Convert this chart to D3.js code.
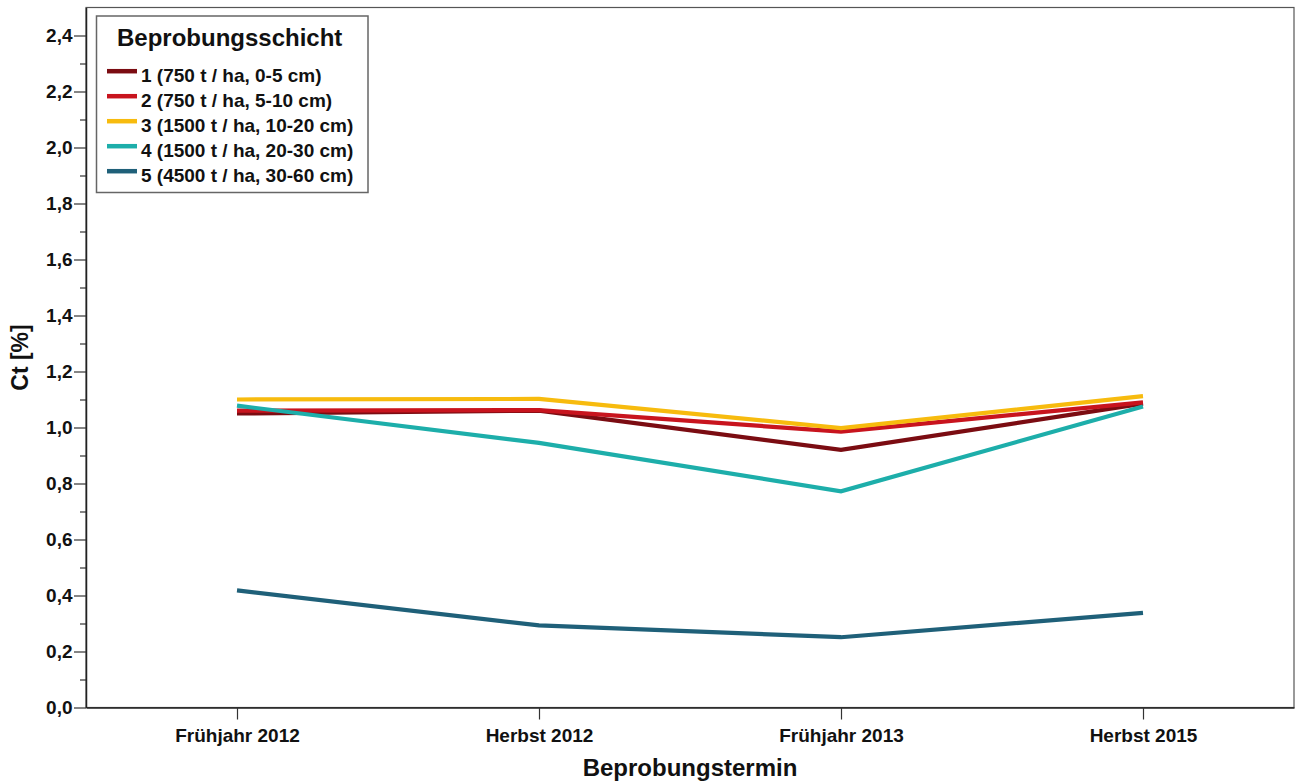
<!DOCTYPE html>
<html>
<head>
<meta charset="utf-8">
<script src="https://cdn.jsdelivr.net/npm/d3@7"></script>
<style>
  html, body { margin: 0; padding: 0; background: #fff; }
  svg { display: block; font-family: "Liberation Sans", Arial, sans-serif; }
</style>
</head>
<body>
<script>
// ---- data ----
const categories = ["Frühjahr 2012", "Herbst 2012", "Frühjahr 2013", "Herbst 2015"];
const seriesNames = [
  "1 (750 t / ha, 0-5 cm)",
  "2 (750 t / ha, 5-10 cm)",
  "3 (1500 t / ha, 10-20 cm)",
  "4 (1500 t / ha, 20-30 cm)",
  "5 (4500 t / ha, 30-60 cm)"
];
const layer1 = [1.050, 1.060, 0.920, 1.085];
const layer2 = [1.060, 1.062, 0.985, 1.090];
const layer3 = [1.100, 1.102, 0.998, 1.112];
const layer4 = [1.078, 0.945, 0.772, 1.075];
const layer5 = [0.418, 0.293, 0.251, 0.338];
const seriesValues = [layer1, layer2, layer3, layer4, layer5];
const seriesColors = ["#7b0c12", "#c8141e", "#f7bb0e", "#1daeaa", "#1f6079"];
const yMajorTicks = [0, 0.2, 0.4, 0.6, 0.8, 1.0, 1.2, 1.4, 1.6, 1.8, 2.0, 2.2, 2.4];
const yMinorTicks = [0.1, 0.3, 0.5, 0.7, 0.9, 1.1, 1.3, 1.5, 1.7, 1.9, 2.1, 2.3];
const yTitle = "Ct [%]";
const xTitle = "Beprobungstermin";
const legendTitle = "Beprobungsschicht";

// ---- layout ----
const W = 1296, H = 782;
const pLeft = 86, pRight = 1294, pTop = 7.5, pBottom = 707.5;

const svg = d3.select("body").append("svg").attr("width", W).attr("height", H);

const x = d3.scalePoint().domain(categories).range([pLeft, pRight]).padding(0.5);
const y = d3.scaleLinear().domain([0, 2.5]).range([pBottom, pTop]);

// frame
svg.append("rect")
  .attr("x", pLeft).attr("y", pTop)
  .attr("width", pRight - pLeft).attr("height", pBottom - pTop)
  .attr("fill", "none").attr("stroke", "#555").attr("stroke-width", 1.2);

const fmt = v => d3.format(".1f")(v).replace(".", ",");

// y axis minor ticks
svg.append("g")
  .attr("transform", `translate(${pLeft},0)`)
  .call(d3.axisLeft(y).tickValues(yMinorTicks).tickSize(6).tickSizeOuter(0).tickFormat(""))
  .call(g => g.select(".domain").remove())
  .call(g => g.selectAll("line").attr("stroke", "#333").attr("stroke-width", 1.2));

// y axis major ticks
svg.append("g")
  .attr("transform", `translate(${pLeft},0)`)
  .call(d3.axisLeft(y).tickValues(yMajorTicks).tickSize(12).tickSizeOuter(0).tickPadding(1.5).tickFormat(fmt))
  .call(g => g.select(".domain").attr("stroke", "#222").attr("stroke-width", 1.5))
  .call(g => g.selectAll("line").attr("stroke", "#333").attr("stroke-width", 1.2))
  .call(g => g.selectAll("text").attr("fill", "#111")
    .style("font-size", "19px").style("font-weight", "bold"));

// x axis
svg.append("g")
  .attr("transform", `translate(0,${pBottom})`)
  .call(d3.axisBottom(x).tickSize(12).tickSizeOuter(0).tickPadding(9))
  .call(g => g.select(".domain").attr("stroke", "#222").attr("stroke-width", 1.5))
  .call(g => g.selectAll("line").attr("stroke", "#333").attr("stroke-width", 1.2))
  .call(g => g.selectAll("text").attr("fill", "#111")
    .style("font-size", "19px").style("font-weight", "bold"));

// axis titles
svg.append("text")
  .attr("transform", `translate(28,${(pTop + pBottom) / 2}) rotate(-90)`)
  .attr("text-anchor", "middle")
  .style("font-size", "23px").style("font-weight", "bold").attr("fill", "#111")
  .text(yTitle);

svg.append("text")
  .attr("x", (pLeft + pRight) / 2).attr("y", 776)
  .attr("text-anchor", "middle")
  .style("font-size", "24px").style("font-weight", "bold").attr("fill", "#111")
  .text(xTitle);

// lines
const line = d3.line()
  .x((d, i) => x(categories[i]))
  .y(d => y(d));

svg.append("g").selectAll("path")
  .data(seriesValues)
  .join("path")
  .attr("d", d => line(d))
  .attr("fill", "none")
  .attr("stroke", (d, i) => seriesColors[i])
  .attr("stroke-width", 4.2)
  .attr("stroke-linejoin", "miter");

// legend
const lg = svg.append("g");
lg.append("rect")
  .attr("x", 96.5).attr("y", 16).attr("width", 271.5).attr("height", 176.5)
  .attr("fill", "#fff").attr("stroke", "#666").attr("stroke-width", 1.5);
lg.append("text")
  .attr("x", 117).attr("y", 46)
  .style("font-size", "24px").style("font-weight", "bold").attr("fill", "#111")
  .text(legendTitle);

const items = lg.selectAll("g.item")
  .data(seriesNames)
  .join("g").attr("class", "item")
  .attr("transform", (d, i) => `translate(0,${81.7 + i * 25})`);
items.append("line")
  .attr("x1", 107).attr("x2", 137)
  .attr("y1", -10.5).attr("y2", -10.5)
  .attr("stroke", (d, i) => seriesColors[i]).attr("stroke-width", 4.5);
items.append("text")
  .attr("x", 141).attr("y", 0)
  .style("font-size", "19px").style("font-weight", "bold").attr("fill", "#111")
  .text(d => d);
</script>
</body>
</html>
